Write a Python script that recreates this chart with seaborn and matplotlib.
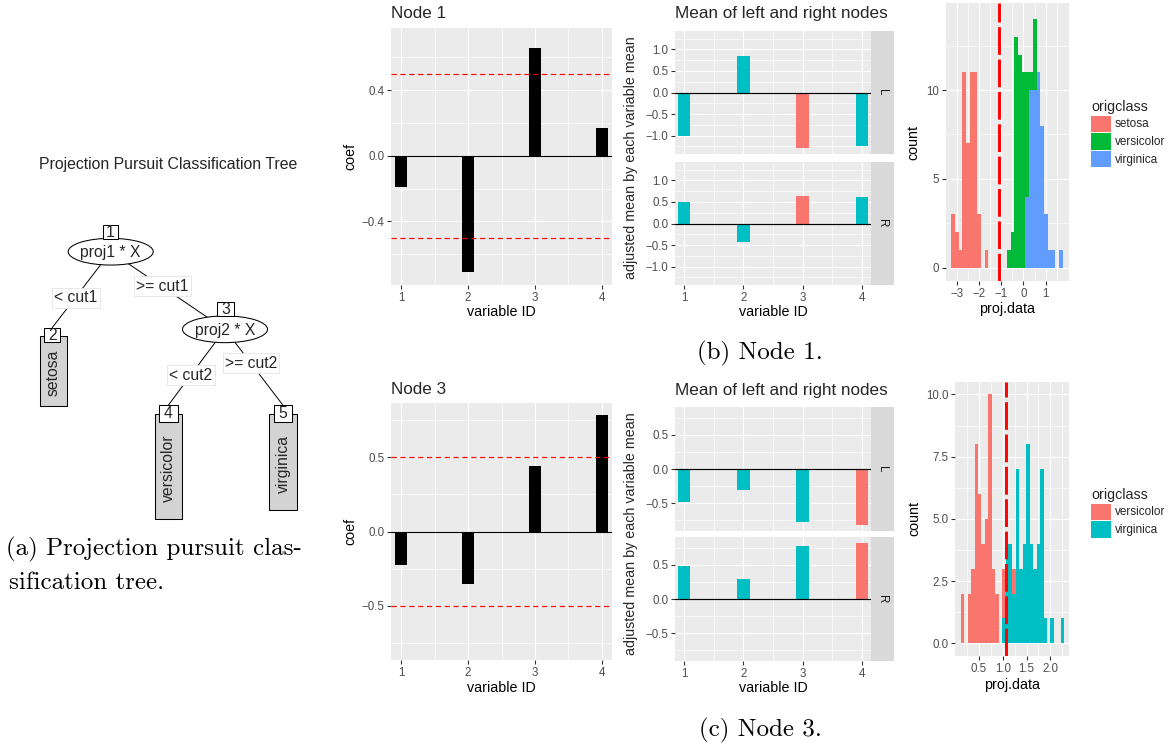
import numpy as np
import pandas as pd
import matplotlib
matplotlib.use("Agg")
import matplotlib.pyplot as plt
import seaborn as sns
from matplotlib.patches import Ellipse, Rectangle

# ------------------------------------------------------------------ data
var_ids = [1, 2, 3, 4]
var_ticks = [1, 2, 3, 4]
var_tick_labels = ["1", "2", "3", "4"]

node1_coef = [-0.19, -0.71, 0.655, 0.167]
node3_coef = [-0.225, -0.355, 0.445, 0.79]
cutoff_lines = [-0.5, 0.5]

node1_left_mean = [-1.0, 0.845, -1.30, -1.25]
node1_right_mean = [0.495, -0.43, 0.645, 0.62]
node1_flag = ["no", "no", "yes", "no"]
node3_left_mean = [-0.49, -0.305, -0.78, -0.825]
node3_right_mean = [0.485, 0.30, 0.78, 0.82]
node3_flag = ["no", "no", "no", "yes"]

hist1_classes = ["setosa", "versicolor", "virginica"]
hist1_colors = ["#F8766D", "#00BA38", "#619CFF"]
hist1_range = (-3.256, 1.764)
hist1_setosa = [3, 2, 1, 11, 7, 11, 11, 3, 0, 1,
                0, 0, 0, 0, 0, 0, 0, 0, 0, 0,
                0, 0, 0, 0, 0, 0, 0, 0, 0, 0]
hist1_versicolor = [0, 0, 0, 0, 0, 0, 0, 0, 0, 0,
                    0, 0, 0, 0, 0, 1, 2, 13, 12, 11,
                    7, 1, 4, 0, 0, 0, 0, 0, 0, 0]
hist1_virginica = [0, 0, 0, 0, 0, 0, 0, 0, 0, 0,
                   0, 0, 0, 0, 0, 0, 0, 0, 0, 0,
                   4, 10, 10, 11, 8, 3, 1, 1, 0, 1]
hist1_cut = -1.1

hist3_classes = ["versicolor", "virginica"]
hist3_colors = ["#F8766D", "#00BFC4"]
hist3_range = (0.121, 2.289)
hist3_versicolor = [2, 0, 2, 3, 8, 6, 4, 5, 10, 3,
                    2, 0, 2, 0, 0, 1, 0, 0, 0, 0,
                    0, 0, 0, 0, 0, 0, 0, 0, 0, 0]
hist3_virginica = [0, 0, 0, 0, 0, 0, 0, 0, 0, 0,
                   0, 0, 1, 4, 4, 2, 7, 3, 4, 8,
                   4, 3, 4, 7, 1, 0, 1, 0, 0, 1]
hist3_cut = 1.07

tree_title = "Projection Pursuit Classification Tree"
tree_inner_labels = ["proj1 * X", "proj2 * X"]
tree_edge_labels = ["< cut1", ">= cut1", "< cut2", ">= cut2"]
tree_terminal_labels = ["setosa", "versicolor", "virginica"]
tree_node_ids = ["1", "3", "2", "4", "5"]

caption_a = ["(a) Projection pursuit clas-", "sification tree."]
caption_b = "(b) Node 1."
caption_c = "(c) Node 3."


def fmt(v, nd=1):
    s = f"{v:.{nd}f}"
    return s.replace("-", "\u2212")

# ------------------------------------------------------------------ style
sns.set_theme(style="darkgrid")
plt.rcParams["font.family"] = ["Liberation Sans", "DejaVu Sans"]
plt.rcParams["axes.unicode_minus"] = True

W, H = 1174, 749
fig = plt.figure(figsize=(W / 100, H / 100), dpi=100)
fig.patch.set_facecolor("white")


def fx(x):
    return x / W


def fy(y):
    return 1 - y / H


def px_axes(x0, y0, x1, y1):
    return fig.add_axes([x0 / W, 1 - y1 / H, (x1 - x0) / W, (y1 - y0) / H])


def style(ax, xlim, ylim, xt, xtl, xmin, yt, ytl, ymin, show_x=True):
    ax.set_xlim(*xlim)
    ax.set_ylim(*ylim)
    ax.set_xticks(xt, xtl)
    ax.set_yticks(yt, ytl)
    ax.set_xticks(xmin, minor=True)
    ax.set_yticks(ymin, minor=True)
    ax.set_facecolor("#EBEBEB")
    ax.grid(which="major", color="white", lw=0.85)
    ax.grid(which="minor", color="white", lw=0.45)
    ax.set_axisbelow(True)
    ax.tick_params(which="major", bottom=show_x, left=True, length=2.7,
                   width=0.8, color="#333333", labelcolor="#4D4D4D",
                   labelsize=8.3, pad=2.0, labelbottom=show_x)
    ax.tick_params(which="minor", length=0, bottom=False, left=False)
    for s in ax.spines.values():
        s.set_visible(False)


def set_labels(ax, xlabel, xpos, ylabel, ypos):
    if xlabel is not None:
        ax.set_xlabel(xlabel, fontsize=10.3, color="black", va="center", ha="center")
        ax.xaxis.set_label_coords(fx(xpos[0]), fy(xpos[1]), transform=fig.transFigure)
    else:
        ax.set_xlabel("")
    if ylabel is not None:
        ax.set_ylabel(ylabel, fontsize=10.3, color="black", va="center", ha="center")
        ax.yaxis.set_label_coords(fx(ypos[0]), fy(ypos[1]), transform=fig.transFigure)
    else:
        ax.set_ylabel("")


def coef_panel(box, coefs, ylim, yt, ymin, title, title_y, xlab_y):
    ax = px_axes(*box)
    df = pd.DataFrame({"variable ID": var_ids, "coef": coefs})
    sns.barplot(data=df, x="variable ID", y="coef", native_scale=True,
                color="black", saturation=1, width=0.19, linewidth=0,
                errorbar=None, ax=ax)
    ax.axhline(0, color="black", lw=0.8, zorder=3)
    for c in cutoff_lines:
        ax.axhline(c, color="red", lw=0.85, ls=(0, (4.5, 3)), zorder=4)
    style(ax, (0.85, 4.15), ylim, var_ticks, var_tick_labels, [1.5, 2.5, 3.5],
          yt, [fmt(v) for v in yt], ymin)
    cy = (box[1] + box[3]) / 2
    set_labels(ax, "variable ID", ((box[0] + box[2]) / 2, xlab_y), "coef", (350, cy))
    fig.text(fx(box[0]), fy(title_y), title, fontsize=12.3, ha="left", va="center")
    return ax


def mean_panels(boxL, boxR, left, right, flags, ylim, yt, ymin, title_y, xlab_y):
    pal = {"yes": "#F8766D", "no": "#00BFC4"}
    axes = []
    for box, vals, lab, show_x in [(boxL, left, "L", False), (boxR, right, "R", True)]:
        ax = px_axes(*box)
        df = pd.DataFrame({"variable ID": var_ids, "mean": vals, "flag": flags})
        sns.barplot(data=df, x="variable ID", y="mean", hue="flag", palette=pal,
                    hue_order=["yes", "no"], dodge=False, native_scale=True,
                    width=0.21, saturation=1, linewidth=0, errorbar=None,
                    legend=False, ax=ax)
        ax.axhline(0, color="black", lw=0.85, zorder=3)
        style(ax, (0.85, 4.15), ylim, var_ticks, var_tick_labels, [1.5, 2.5, 3.5],
              yt, [fmt(v) for v in yt], ymin, show_x=show_x)
        ax.set_xlabel("")
        ax.set_ylabel("")
        # facet strip
        sax = px_axes(box[2], box[1], box[2] + 23, box[3])
        sax.set_facecolor("#D9D9D9")
        sax.set_xticks([])
        sax.set_yticks([])
        sax.grid(False)
        for s in sax.spines.values():
            s.set_visible(False)
        sax.text(0.5, 0.5, lab, rotation=-90, ha="center", va="center",
                 fontsize=8.3, color="#1A1A1A", transform=sax.transAxes)
        axes.append(ax)
    cy = (boxL[1] + boxR[3]) / 2
    set_labels(axes[1], "variable ID", ((boxL[0] + boxL[2]) / 2, xlab_y), None, None)
    fig.text(fx(631), fy(cy), "adjusted mean by each variable mean", rotation=90,
             fontsize=10.3, ha="center", va="center")
    fig.text(fx(boxL[0]), fy(title_y), "Mean of left and right nodes",
             fontsize=12.3, ha="left", va="center")
    return axes


def hist_panel(box, rng, classes, colors, counts, cut, xlim, ylim, xt, xtl, xmin,
               yt, ytl, ymin, xlab_y, count_x, leg_xy):
    ax = px_axes(*box)
    edges = np.linspace(rng[0], rng[1], len(counts[0]) + 1)
    centers = (edges[:-1] + edges[1:]) / 2
    rows = []
    for cls, cnts in zip(classes, counts):
        for c, n in zip(centers, cnts):
            rows.append((float(c), float(n), cls))
    df = pd.DataFrame(rows, columns=["proj.data", "count", "origclass"])
    sns.histplot(data=df, x="proj.data", weights="count", hue="origclass",
                 hue_order=classes, palette=dict(zip(classes, colors)),
                 multiple="stack", bins=[float(e) for e in edges], linewidth=0,
                 alpha=1, ax=ax)
    ax.axvline(cut, color="red", lw=2.1, ls=(0, (9.5, 1.6)), zorder=5)
    style(ax, xlim, ylim, xt, xtl, xmin, yt, ytl, ymin)
    cy = (box[1] + box[3]) / 2
    set_labels(ax, "proj.data", ((box[0] + box[2]) / 2, xlab_y), "count", (count_x, cy))
    sns.move_legend(ax, loc="upper left", bbox_to_anchor=(fx(leg_xy[0]), fy(leg_xy[1])),
                    bbox_transform=fig.transFigure, frameon=False, title="origclass",
                    fontsize=8.5, title_fontsize=10.3, handlelength=1.7,
                    handleheight=1.74, labelspacing=0.13, handletextpad=0.34,
                    alignment="left", borderpad=0, borderaxespad=0)
    return ax


# ------------------------------------------------------------------ top row (Node 1)
coef_panel((391, 28, 612, 285), node1_coef, (-0.787, 0.778), [-0.4, 0.0, 0.4],
           [-0.6, -0.2, 0.2, 0.6], "Node 1", 13.5, 311.5)
mean_panels((675, 31, 871, 154), (675, 162, 871, 285), node1_left_mean,
            node1_right_mean, node1_flag, (-1.43, 1.43), [-1.0, -0.5, 0.0, 0.5, 1.0],
            [-1.25, -0.75, -0.25, 0.25, 0.75, 1.25], 13.5, 312)
hist_panel((946, 3, 1069, 281), hist1_range, hist1_classes, hist1_colors,
           [hist1_setosa, hist1_versicolor, hist1_virginica], hist1_cut,
           (-3.49, 2.05), (-0.75, 14.9), [-3, -2, -1, 0, 1],
           [fmt(v, 0) for v in [-3, -2, -1, 0, 1]], [-2.5, -1.5, -0.5, 0.5, 1.5],
           [0, 5, 10], ["0", "5", "10"], [2.5, 7.5, 12.5], 309, 913, (1091, 100))

# ------------------------------------------------------------------ bottom row (Node 3)
coef_panel((391, 403, 612, 660), node3_coef, (-0.868, 0.868), [-0.5, 0.0, 0.5],
           [-0.75, -0.25, 0.25, 0.75], "Node 3", 389, 688)
mean_panels((675, 407, 871, 531), (675, 537, 871, 661), node3_left_mean,
            node3_right_mean, node3_flag, (-0.91, 0.91), [-0.5, 0.0, 0.5],
            [-0.75, -0.25, 0.25, 0.75], 390, 688)
hist_panel((955, 382, 1069, 656), hist3_range, hist3_classes, hist3_colors,
           [hist3_versicolor, hist3_virginica], hist3_cut,
           (0.0, 2.39), (-0.51, 10.5), [0.5, 1.0, 1.5, 2.0],
           [fmt(v) for v in [0.5, 1.0, 1.5, 2.0]], [0.25, 0.75, 1.25, 1.75, 2.25],
           [0, 2.5, 5, 7.5, 10], [fmt(v) for v in [0, 2.5, 5, 7.5, 10]],
           [1.25, 3.75, 6.25, 8.75], 685, 914, (1091, 488))

# ------------------------------------------------------------------ tree (a)
axt = fig.add_axes([0, 0, 345 / W, 1])
axt.set_xlim(0, 345)
axt.set_ylim(H, 0)
axt.axis("off")
tf = 11.3
axt.text(168, 165, tree_title, ha="center", va="center", fontsize=11.4)

inner_pos = [(110.7, 251.7), (225.0, 329.3)]
term_rects = [(40, 336, 26.7, 70), (155, 414, 26.7, 105.3), (269.3, 414, 27.4, 96)]
id_boxes = [(102.7, 225, 15.6, 14), (216.7, 301.5, 17.6, 14.5),
            (44.3, 327.7, 15.7, 14.6), (159.3, 405, 18.4, 16.7), (274, 405, 17.7, 16.7)]
edge_lines = [((110.7, 251.7), (52.2, 327.7)), ((110.7, 251.7), (225.0, 329.3)),
              ((225.0, 329.3), (168.5, 405)), ((225.0, 329.3), (282.8, 405))]
edge_label_pos = [(76, 298), (162.5, 286.3), (191, 375), (251, 363)]

for (p, q) in edge_lines:
    axt.plot([p[0], q[0]], [p[1], q[1]], color="black", lw=0.7, zorder=1)
for (x, y), lab in zip(edge_label_pos, tree_edge_labels):
    axt.text(x, y, lab, ha="center", va="center", fontsize=tf, zorder=2,
             bbox=dict(boxstyle="square,pad=0.15", fc="white", ec="#E4E4E4", lw=0.6))
for (x, y), lab in zip(inner_pos, tree_inner_labels):
    axt.add_patch(Ellipse((x, y), 85, 26.7, fc="white", ec="black", lw=0.75, zorder=3))
    axt.text(x, y + 1, lab, ha="center", va="center", fontsize=tf, zorder=4)
for (x, y, w, h), lab in zip(term_rects, tree_terminal_labels):
    axt.add_patch(Rectangle((x, y), w, h, fc="#D3D3D3", ec="black", lw=0.75, zorder=3))
    axt.text(x + w / 2, y + h / 2 + 2, lab, rotation=90, ha="center", va="center",
             fontsize=tf, zorder=4)
for (x, y, w, h), lab in zip(id_boxes, tree_node_ids):
    axt.add_patch(Rectangle((x, y), w, h, fc="white", ec="black", lw=0.75, zorder=5))
    axt.text(x + w / 2, y + h / 2 + 0.5, lab, ha="center", va="center", fontsize=tf, zorder=6)

# ------------------------------------------------------------------ captions
cap_font = dict(family="cmr10", fontsize=18, color="black")
fig.text(fx(6), fy(549), caption_a[0], ha="left", va="center", **cap_font)
fig.text(fx(9), fy(583), caption_a[1], ha="left", va="center", **cap_font)
fig.text(fx(760), fy(353), caption_b, ha="center", va="center", **cap_font)
fig.text(fx(760), fy(730), caption_c, ha="center", va="center", **cap_font)

fig.savefig("out.png", dpi=100, facecolor="white")
